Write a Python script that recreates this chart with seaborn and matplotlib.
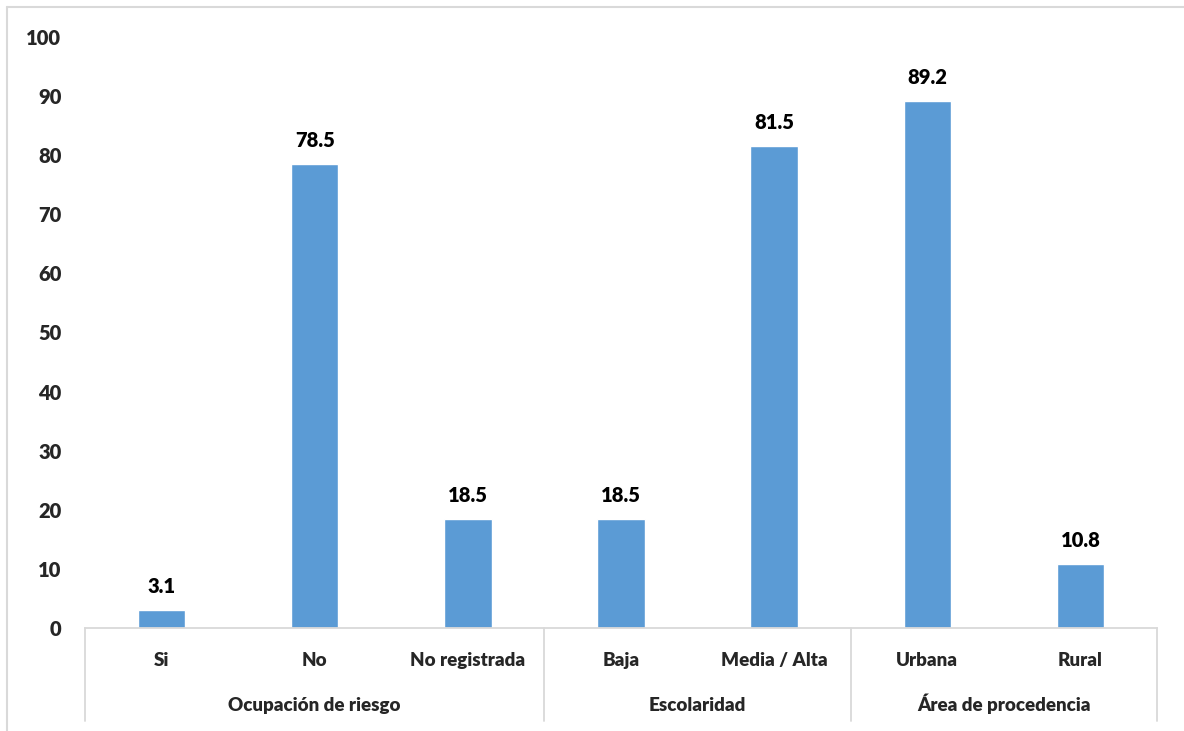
import matplotlib
matplotlib.use("Agg")
import matplotlib.pyplot as plt
import seaborn as sns
import pandas as pd
from matplotlib.lines import Line2D

# Data
categories = ["Si", "No", "No registrada", "Baja", "Media / Alta", "Urbana", "Rural"]
values = [3.1, 78.5, 18.5, 18.5, 81.5, 89.2, 10.8]
groups = ["Ocupación de riesgo", "Escolaridad", "Área de procedencia"]
group_sizes = [3, 2, 2]

bar_color = "#5B9BD5"
line_color = "#D9D9D9"
fw = 800
fs = 13.5      # text labels
fs_num = 14.5  # numbers

sns.set_style("white")
plt.rcParams["font.family"] = ["Lato", "DejaVu Sans"]
plt.rcParams["font.weight"] = fw

df = pd.DataFrame({"cat": categories, "val": values})

fig = plt.figure(figsize=(11.84, 7.31), dpi=100)
ax = fig.add_axes([85 / 1184, 103 / 731, 1072 / 1184, 591 / 731])

sns.barplot(data=df, x="cat", y="val", color=bar_color, width=0.31,
            saturation=1, ax=ax)

# value labels above bars
for cont in ax.containers:
    ax.bar_label(cont, labels=[f"{v:.1f}" for v in values], padding=10,
                 fontsize=fs_num, fontweight=fw, color="black")

ax.set_ylim(0, 100)
ax.set_xlim(-0.5, len(categories) - 0.5)
ax.set_yticks(range(0, 101, 10))
ax.set_xlabel("")
ax.set_ylabel("")
ax.tick_params(axis="y", length=0, pad=17, labelsize=fs_num)
ax.tick_params(axis="x", length=0, pad=17, labelsize=fs)
for lab in ax.get_xticklabels() + ax.get_yticklabels():
    lab.set_fontweight(fw)

for side in ["top", "right", "left"]:
    ax.spines[side].set_visible(False)
ax.spines["bottom"].set_color(line_color)
ax.spines["bottom"].set_linewidth(1.3)

# group separators and group labels
trans = ax.get_xaxis_transform()
edges = [-0.5]
for n in group_sizes:
    edges.append(edges[-1] + n)
for e in edges:
    ax.add_line(Line2D([e, e], [0, -0.157], transform=trans, color=line_color,
                       lw=1.3, clip_on=False))
for g, a, b in zip(groups, edges[:-1], edges[1:]):
    ax.text((a + b) / 2, -0.141, g, transform=trans, ha="center", va="baseline",
            fontsize=fs, fontweight=fw)

# figure frame (left and top edges visible)
fig.add_artist(Line2D([7 / 1184, 7 / 1184], [0, 1 - 7 / 731], color=line_color,
                      lw=1.5, transform=fig.transFigure))
fig.add_artist(Line2D([7 / 1184, 1], [1 - 7 / 731, 1 - 7 / 731], color=line_color,
                      lw=1.5, transform=fig.transFigure))

fig.savefig("out.png", dpi=100)
